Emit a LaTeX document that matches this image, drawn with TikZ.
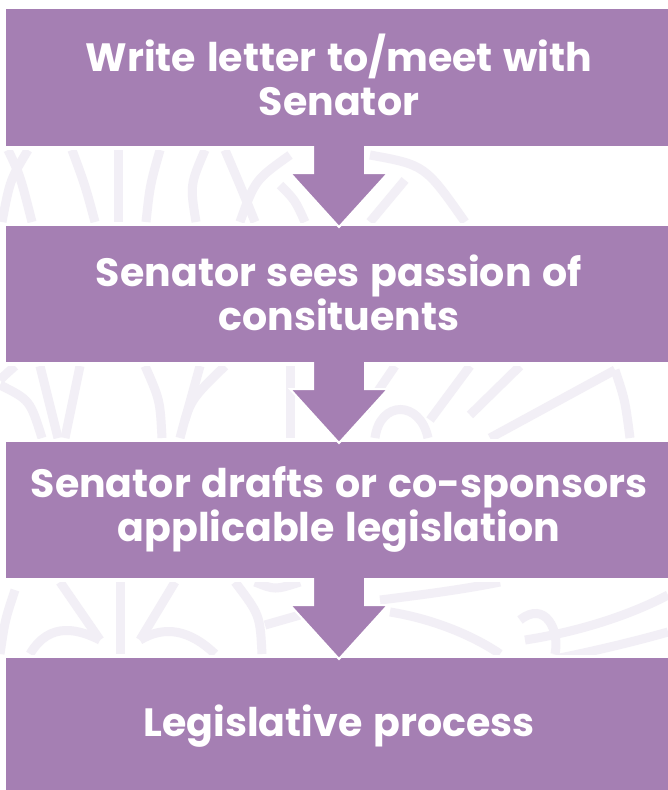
\documentclass[tikz,border=0pt]{standalone}
\usepackage{fontspec}
\setmainfont{Poppins}[WordSpace=1.3]
\definecolor{boxpurple}{HTML}{A57FB3}
\definecolor{wm}{HTML}{F2EFF6}
\begin{document}
\begin{tikzpicture}[x=1pt,y=-1pt,
  stepbox/.style={fill=boxpurple,draw=none,anchor=north west,minimum width=662pt,inner sep=0pt},
  steptext/.style={text=white,font=\fontsize{39.5}{44}\selectfont\bfseries,align=center,inner sep=0pt},
  arrowfill/.style={fill=boxpurple,draw=none},
  arrowedge/.style={draw=white,line width=2pt,line join=miter},
  wmline/.style={draw=wm,line width=9pt}]
\useasboundingbox (0,0) rectangle (668,790);
\fill[white] (0,0) rectangle (668,790);
% faint watermark in the gaps
\begin{scope}
\clip (0,150) rectangle (668,222);
\draw[wmline] (8,150) .. controls (20,175) .. (32,222);
\draw[wmline] (28,150) .. controls (10,180) .. (2,222);
\draw[wmline] (72,150) .. controls (85,185) .. (95,222);
\draw[wmline] (118,150) -- (118,222);
\draw[wmline] (160,150) .. controls (150,185) .. (146,222);
\draw[wmline] (205,150) .. controls (190,185) .. (196,222);
\draw[wmline] (225,150) .. controls (240,185) .. (255,222);
\draw[wmline] (290,155) .. controls (255,180) .. (240,222);
\draw[wmline] (280,185) .. controls (295,200) .. (305,222);
\draw[wmline] (370,155) .. controls (425,165) .. (465,222);
\draw[wmline] (405,180) -- (370,222);
\end{scope}
\begin{scope}
\clip (0,366) rectangle (668,438);
\draw[wmline] (0,385) .. controls (30,400) .. (42,438);
\draw[wmline] (15,366) .. controls (5,375) .. (0,380);
\draw[wmline] (40,366) -- (58,438);
\draw[wmline] (80,366) -- (65,438);
\draw[wmline] (145,366) .. controls (160,400) .. (162,438);
\draw[wmline] (225,366) .. controls (190,400) .. (180,438);
\draw[wmline] (200,366) -- (185,420);
\draw[wmline] (290,366) -- (290,438);
\draw[wmline] (375,438) .. controls (380,400) and (420,400) .. (428,438);
\draw[wmline] (395,366) -- (365,410);
\draw[wmline] (470,366) -- (430,420);
\draw[wmline] (520,366) -- (470,415);
\draw[wmline] (615,370) -- (490,438);
\draw[wmline] (615,370) .. controls (625,400) .. (630,438);
\end{scope}
\begin{scope}
\clip (0,582) rectangle (668,654);
\draw[wmline] (15,590) .. controls (5,620) .. (0,654);
\draw[wmline] (60,582) -- (100,640);
\draw[wmline] (175,582) -- (140,640);
\draw[wmline] (120,582) -- (120,654);
\draw[wmline] (30,654) .. controls (50,620) and (80,630) .. (100,640);
\draw[wmline] (140,640) .. controls (165,625) and (190,630) .. (215,654);
\draw[wmline] (235,582) .. controls (260,615) .. (262,654);
\draw[wmline] (255,582) .. controls (275,590) .. (300,582);
\draw[wmline] (265,625) -- (300,615);
\draw[wmline] (390,612) .. controls (440,620) and (480,640) .. (500,654);
\draw[wmline] (380,600) .. controls (420,595) and (460,590) .. (500,582);
\draw[wmline] (520,620) .. controls (545,600) and (560,630) .. (555,654);
\draw[wmline] (525,640) .. controls (590,630) and (640,610) .. (668,595);
\draw[wmline] (550,660) .. controls (600,650) and (640,640) .. (668,632);
\end{scope}
% boxes
\node[stepbox,minimum height=137pt] (b1) at (6,9) {};
\node[stepbox,minimum height=136pt] (b2) at (6,226) {};
\node[stepbox,minimum height=136pt] (b3) at (6,442) {};
\node[stepbox,minimum height=132pt] (b4) at (6,658) {};
% arrows
\foreach \a in {146,362,578}{
  \fill[arrowfill] (313,\a-6) -- (365,\a-6) -- (365,\a+27) -- (388,\a+27) -- (339,\a+81) -- (290,\a+27) -- (313,\a+27) -- cycle;
  \draw[arrowedge] (313,\a) -- (313,\a+27) -- (290,\a+27) -- (339,\a+81) -- (388,\a+27) -- (365,\a+27) -- (365,\a);
}
% texts
\node[steptext] (t1) at (339,75) {Write letter to/meet with\\Senator};
\node[steptext] (t2) at (339,293) {Senator sees passion of\\consituents};
\node[steptext] (t3) at (339,509) {Senator drafts or co-sponsors\\applicable legislation};
\node[steptext] (t4) at (339,726) {Legislative process};
\end{tikzpicture}
\end{document}
